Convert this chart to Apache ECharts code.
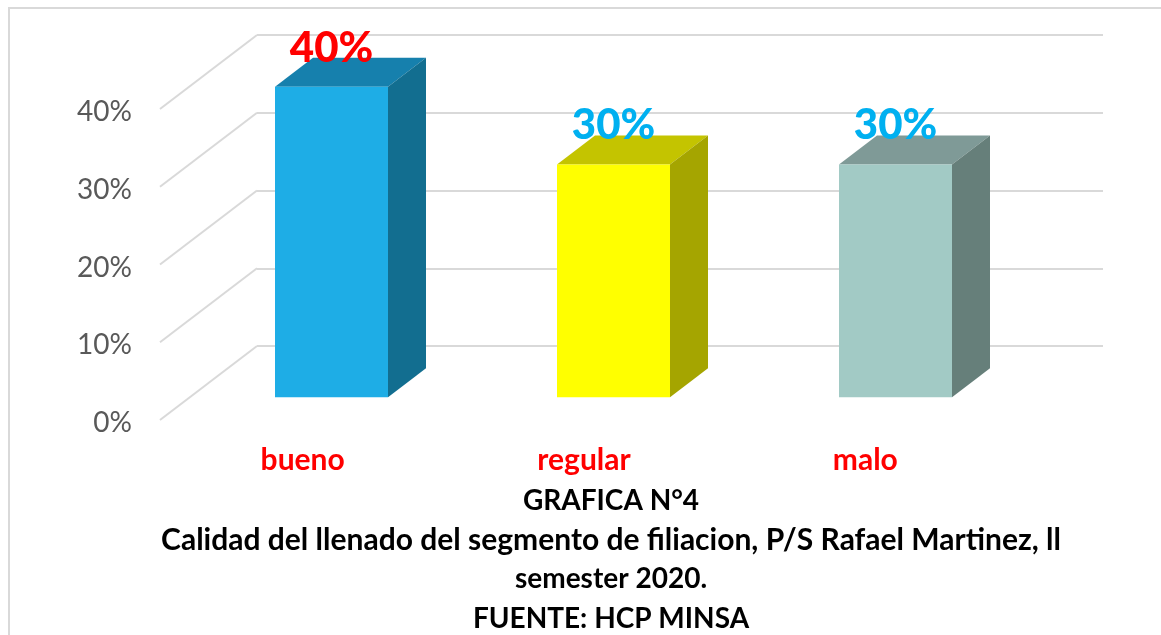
<!DOCTYPE html>
<html>
<head>
<meta charset="utf-8">
<style>html,body{margin:0;padding:0;background:#fff;overflow:hidden}#c{width:1161px;height:635px}</style>
<script src="https://cdn.jsdelivr.net/npm/echarts@6/dist/echarts.min.js"></script>
</head>
<body>
<div id="c"></div>
<script>
const categories = ['bueno', 'regular', 'malo'];
const values = [40, 30, 30];
const yTicks = [0, 10, 20, 30, 40];
const titleLines = [
  'GRAFICA N°4',
  'Calidad del llenado del segmento de filiacion, P/S Rafael Martinez, ll',
  'semester 2020.',
  'FUENTE: HCP MINSA'
];

const faceColors = ['#1EADE6', '#FFFF00', '#A2CAC5'];
const topColors = ['#1680AD', '#C4C400', '#7F9A97'];
const sideColors = ['#126E90', '#A5A500', '#667F7A'];
const labelColors = ['#FF0000', '#00B0F0', '#00B0F0'];
const FONT = 'Lato, Carlito, "Open Sans", sans-serif';
const GRID = '#D9D9D9';
const titleStyles = ['short', 'long', 'short', 'short'];

const chart = echarts.init(document.getElementById('c'), null, {renderer: 'canvas'});

function renderWall(params, api) {
  const p = api.coord([0, api.value(0)]);
  const band = api.size([1, 0])[0];
  const x = p[0] - band / 2;
  return {type: 'line', silent: true,
    shape: {x1: x, y1: p[1], x2: x - 97, y2: p[1] + 74},
    style: {stroke: GRID, lineWidth: 2}};
}

function renderBar(params, api) {
  const i = api.value(0);
  const top = api.coord([i, api.value(1)]);
  const base = api.coord([i, 0]);
  const cx = top[0] - 66.5, w = 113;
  const dx = 38, dy = 29;
  const yT = top[1] + 51.7, yB = base[1] + 51.3;
  const xL = cx - w / 2, xR = cx + w / 2;
  return {type: 'group', children: [
    {type: 'polygon', shape: {points: [[xL, yT], [xR, yT], [xR + dx, yT - dy], [xL + dx, yT - dy]]},
      style: {fill: topColors[i]}},
    {type: 'polygon', shape: {points: [[xR, yT], [xR + dx, yT - dy], [xR + dx, yB - dy], [xR, yB]]},
      style: {fill: sideColors[i]}},
    {type: 'rect', shape: {x: xL, y: yT, width: w, height: yB - yT},
      style: {fill: faceColors[i]}},
    {type: 'text', z2: 10, style: {text: api.value(1) + '%', x: cx, y: yT - 38.5,
      align: 'center', verticalAlign: 'middle', fill: labelColors[i],
      fontFamily: 'Lato', fontWeight: 900, fontSize: 42}}
  ]};
}

chart.setOption({
  animation: false,
  backgroundColor: '#fff',
  title: {
    text: titleLines.map((t, i) => '{' + titleStyles[i] + '|' + t + '}').join('\n'),
    left: 606, top: 476, textAlign: 'center',
    textStyle: {
      rich: {
        short: {fontFamily: FONT, fontWeight: 'bold', fontSize: 28, lineHeight: 39.3, color: '#000'},
        long: {fontFamily: FONT, fontWeight: 'bold', fontSize: 30, lineHeight: 39.3, color: '#000'}
      }
    }
  },
  graphic: [{type: 'rect', silent: true, z: -1,
    shape: {x: 9, y: 8, width: 1300, height: 800},
    style: {fill: 'none', stroke: GRID, lineWidth: 2}}],
  grid: [
    {left: 257, top: 35, width: 846, height: 311},
    {left: 162, top: 112, width: 844, height: 311}
  ],
  xAxis: [
    {gridIndex: 0, type: 'category', data: categories, show: false},
    {gridIndex: 1, type: 'category', data: categories,
      axisLine: {show: false}, axisTick: {show: false},
      axisLabel: {margin: 22, color: '#FF0000', fontFamily: FONT, fontWeight: 'bold', fontSize: 30}}
  ],
  yAxis: [
    {gridIndex: 0, type: 'value', min: 0, max: 40, interval: 10,
      axisLine: {show: false}, axisTick: {show: false}, axisLabel: {show: false},
      splitLine: {lineStyle: {color: GRID, width: 2}}},
    {gridIndex: 1, type: 'value', min: 0, max: 40, interval: 10,
      axisLine: {show: false}, axisTick: {show: false}, splitLine: {show: false},
      axisLabel: {margin: 30, formatter: '{value}%', color: '#595959', fontFamily: FONT, fontSize: 28}}
  ],
  series: [
    {type: 'custom', xAxisIndex: 0, yAxisIndex: 0, renderItem: renderWall, clip: false, silent: true,
      encode: {x: 1, y: 0}, data: yTicks.map(t => [t, 0]), z: 1},
    {type: 'custom', xAxisIndex: 0, yAxisIndex: 0, renderItem: renderBar, clip: false, silent: true,
      encode: {x: 0, y: 1}, data: values.map((v, i) => [i, v]), z: 2}
  ]
});
</script>
</body>
</html>
